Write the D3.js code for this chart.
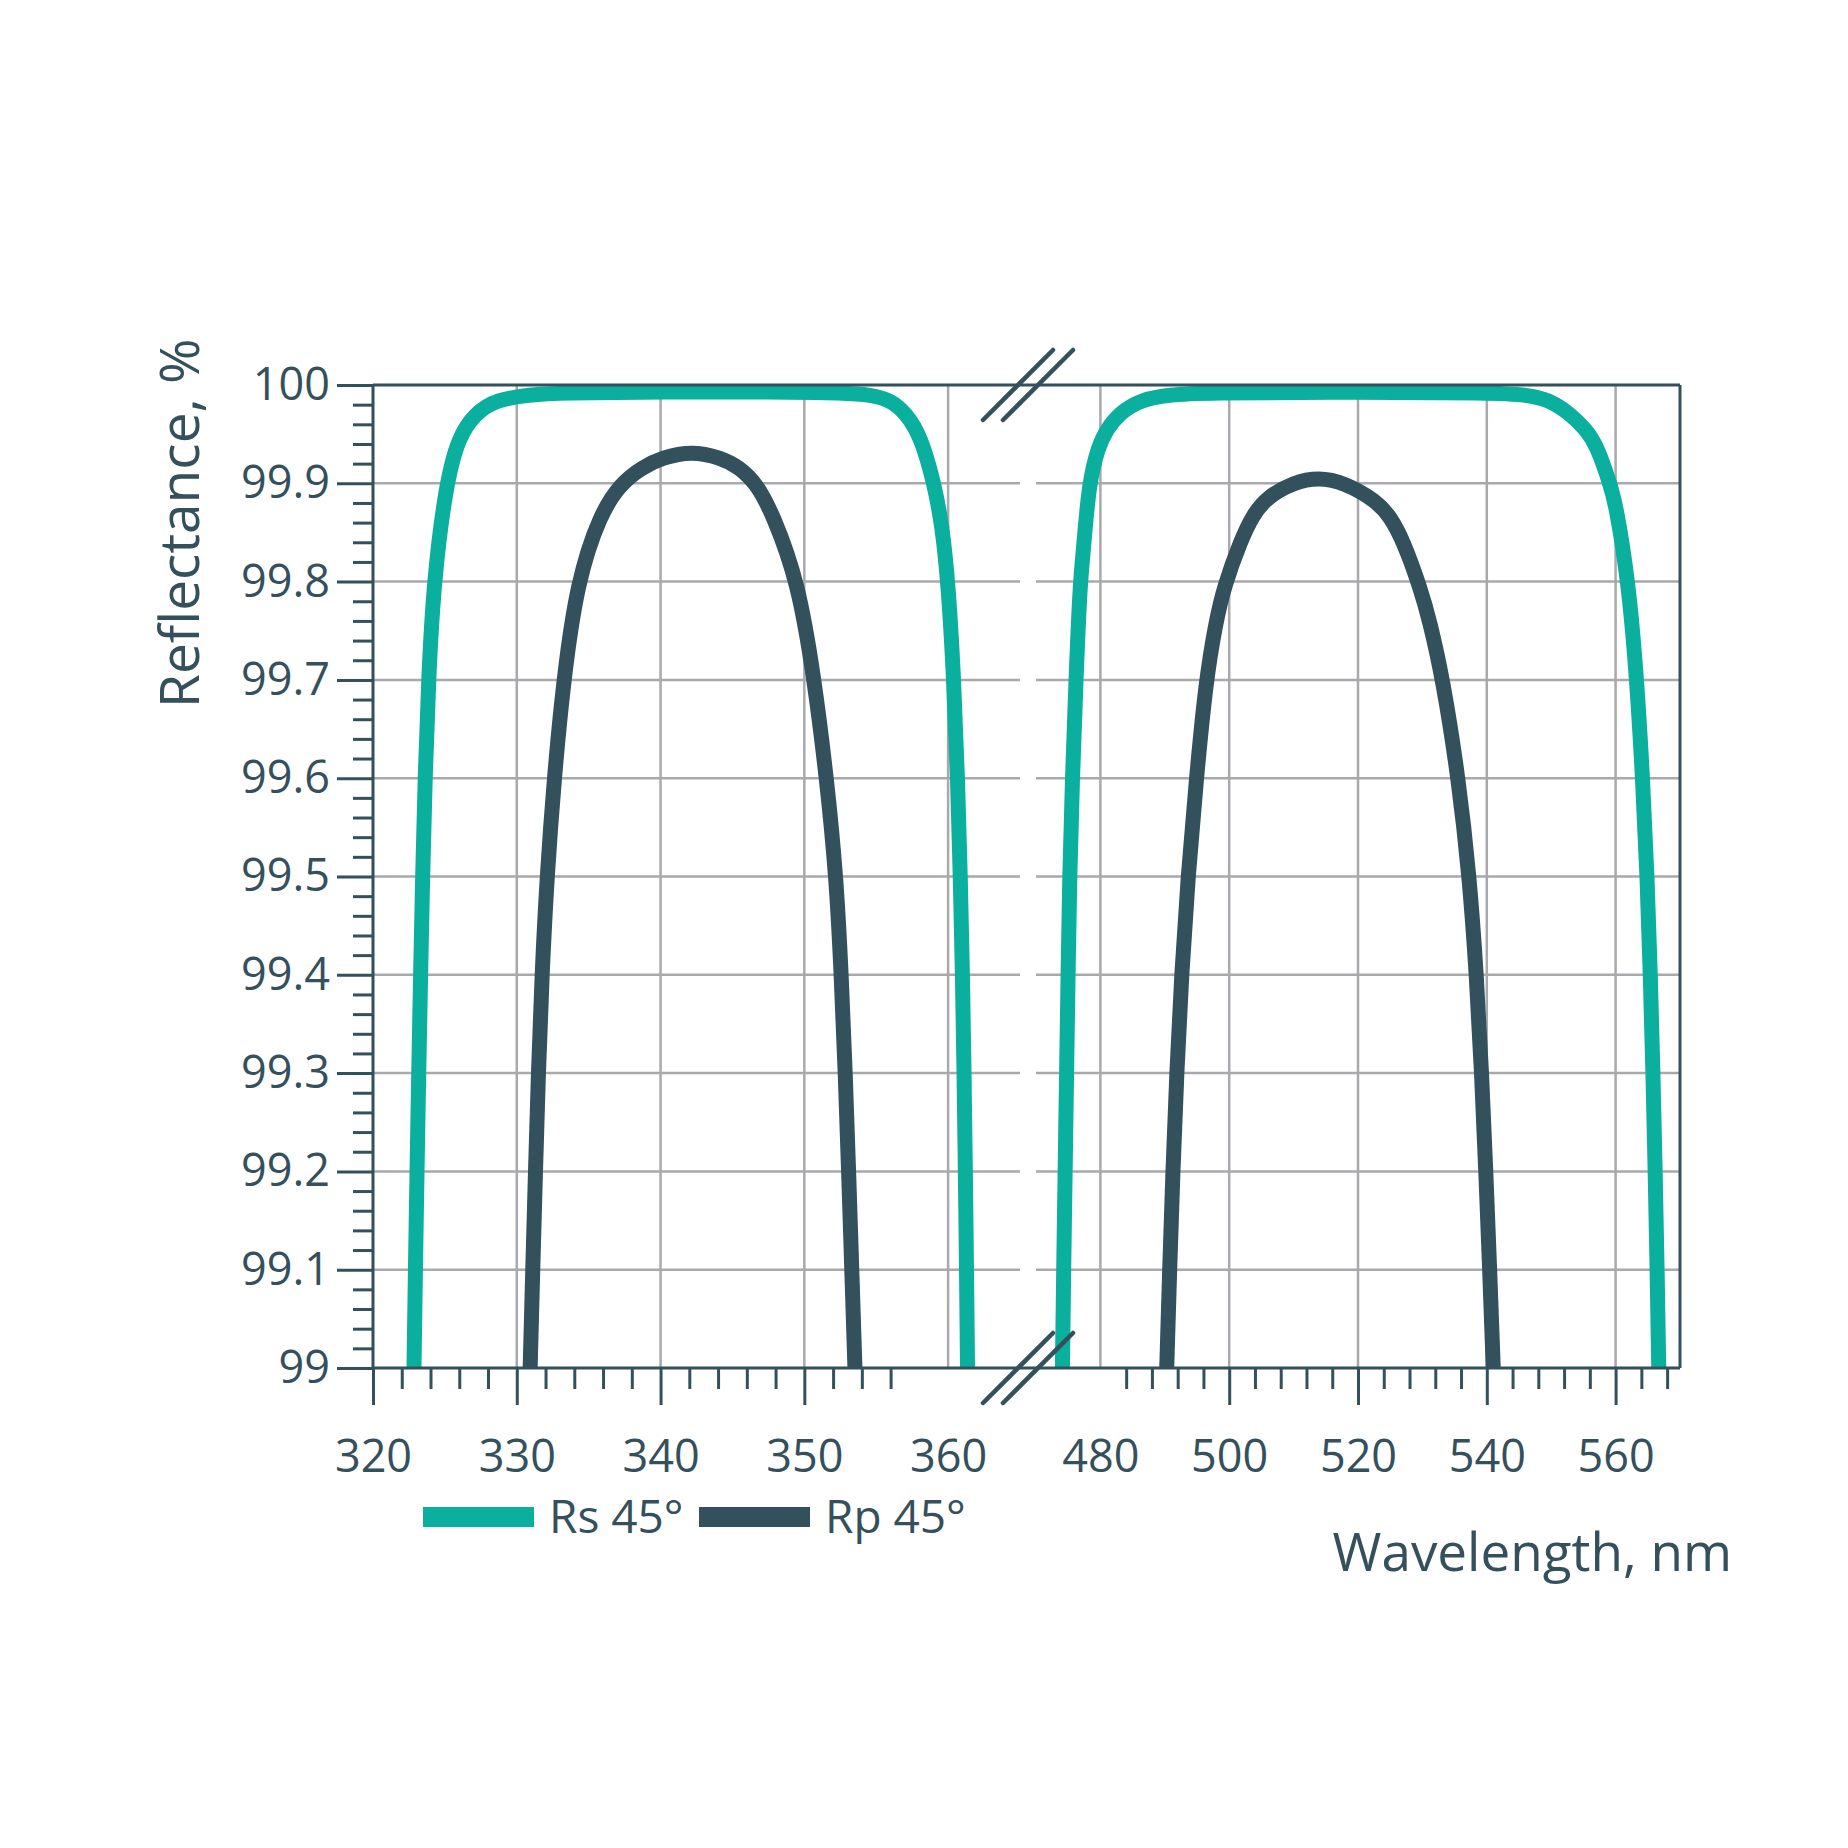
<!DOCTYPE html>
<html>
<head>
<meta charset="utf-8">
<script src="https://cdn.jsdelivr.net/npm/d3@7"></script>
<style>
  body { margin: 0; background: #fff; }
  text { font-family: "Open Sans", "Noto Sans", sans-serif; fill: #34505d; }
</style>
</head>
<body>
<svg id="chart" width="1848" height="1848"></svg>
<script>
// reflectance readings, [wavelength nm, R %]
const rsLeft = [
  [322.85, 99.0], [322.95, 99.1], [323.06, 99.2], [323.18, 99.3], [323.31, 99.4],
  [323.45, 99.5], [323.62, 99.6], [323.86, 99.7], [324.22, 99.8], [325.07, 99.899],
  [325.94, 99.947], [327.1, 99.971], [328.55, 99.985], [330.9, 99.99], [333, 99.992],
  [340, 99.993], [348, 99.993], [352.8, 99.992], [354.64, 99.99], [355.94, 99.985],
  [357.1, 99.971], [358.12, 99.947], [359.04, 99.899], [359.57, 99.858], [360.0, 99.8],
  [360.4, 99.7], [360.66, 99.6], [360.85, 99.5], [361.0, 99.4], [361.11, 99.3],
  [361.2, 99.2], [361.28, 99.1], [361.35, 99.0]
];
const rpLeft = [
  [330.93, 99.0], [331.11, 99.1], [331.3, 99.2], [331.5, 99.3], [331.75, 99.4],
  [332.1, 99.5], [332.6, 99.6], [333.25, 99.7], [334.2, 99.8], [335.8, 99.869],
  [337.25, 99.9], [338.7, 99.916], [340.1, 99.926], [342.17, 99.933], [344.2, 99.926],
  [345.4, 99.917], [346.67, 99.9], [347.8, 99.869], [349.57, 99.8], [350.7, 99.7],
  [351.55, 99.6], [352.22, 99.5], [352.57, 99.4], [352.85, 99.3], [353.08, 99.2],
  [353.3, 99.1], [353.52, 99.0]
];
const rsRight = [
  [474.1, 99.0], [474.3, 99.1], [474.52, 99.2], [474.75, 99.3], [474.98, 99.4],
  [475.22, 99.5], [475.65, 99.6], [476.2, 99.7], [476.85, 99.8], [477.4, 99.834],
  [478.2, 99.9], [479.7, 99.938], [481, 99.955], [482.9, 99.971], [486.2, 99.985],
  [490.8, 99.99], [495.4, 99.992], [520, 99.993], [541.1, 99.992], [546.3, 99.99],
  [549.6, 99.985], [552.9, 99.971], [555.5, 99.954], [557.1, 99.938], [559.1, 99.9],
  [560.0, 99.88], [562, 99.8], [563.3, 99.7], [564.2, 99.6], [564.9, 99.5],
  [565.4, 99.4], [565.8, 99.3], [566.15, 99.2], [566.45, 99.1], [566.7, 99.0]
];
const rpRight = [
  [490.3, 99.0], [490.75, 99.1], [491.25, 99.2], [491.85, 99.3], [492.6, 99.4],
  [493.6, 99.5], [494.9, 99.6], [496.4, 99.7], [497.9, 99.758], [499.2, 99.795],
  [501.8, 99.842], [503.7, 99.868], [505.9, 99.886], [510.0, 99.901], [513.9, 99.906],
  [517.8, 99.901], [522.9, 99.882], [525.0, 99.866], [527.0, 99.842], [529.6, 99.795],
  [531.1, 99.761], [533.2, 99.7], [535.6, 99.6], [537.3, 99.5], [538.4, 99.4],
  [539.2, 99.3], [539.85, 99.2], [540.45, 99.1], [541.0, 99.0]
];

// ticks and labels
const yMajor = [99, 99.1, 99.2, 99.3, 99.4, 99.5, 99.6, 99.7, 99.8, 99.9, 100];
const yMinor = d3.range(99, 100.001, 0.02).filter(v => Math.round(v * 50) % 5 !== 0);
const yLabels = ["99", "99.1", "99.2", "99.3", "99.4", "99.5", "99.6", "99.7", "99.8", "99.9", "100"];
const yGrid = [99.1, 99.2, 99.3, 99.4, 99.5, 99.6, 99.7, 99.8, 99.9];

const leftMajor = [320, 330, 340, 350];
const leftMinor = [322, 324, 326, 328, 332, 334, 336, 338, 342, 344, 346, 348, 352, 354, 356];
const leftLabels = [320, 330, 340, 350, 360];
const leftGrid = [330, 340, 350, 360];

const rightMajor = [500, 520, 540, 560];
const rightMinor = [484, 488, 492, 496, 504, 508, 512, 516, 524, 528, 532, 536, 544, 548, 552, 556, 564, 568];
const rightLabels = [480, 500, 520, 540, 560];
const rightGrid = [480, 500, 520, 540, 560];

const legendItems = ["Rs 45°", "Rp 45°"];

const teal = "#0aaf9d";
const dark = "#33505d";
const grid = "#a9a9ad";

const svg = d3.select("#chart");

const xL = d3.scaleLinear().domain([320, 365]).range([373, 1020]);
const xR = d3.scaleLinear().domain([470, 570]).range([1036, 1680]);
const y = d3.scaleLinear().domain([99, 100]).range([1368, 385]);

// ------
// grid lines
function drawGrid(x, xs, x0, x1) {
  const g = svg.append("g").attr("stroke", grid).attr("stroke-width", 2.5);
  g.selectAll("line.v").data(xs).enter().append("line")
    .attr("x1", d => x(d)).attr("x2", d => x(d))
    .attr("y1", y(100)).attr("y2", y(99));
  g.selectAll("line.h").data(yGrid).enter().append("line")
    .attr("x1", x0).attr("x2", x1)
    .attr("y1", d => y(d)).attr("y2", d => y(d));
}
drawGrid(xL, leftGrid, xL(320), xL(365));
drawGrid(xR, rightGrid, xR(470), xR(570));

// ------
// curves (b-spline smooths out small reading errors)
function drawCurve(x, data, color) {
  const line = d3.line()
    .x(d => x(d[0]))
    .y(d => y(d[1]))
    .curve(d3.curveBasis);
  svg.append("path")
    .attr("d", line(data))
    .attr("fill", "none")
    .attr("stroke", color)
    .attr("stroke-width", 15)
    .attr("stroke-linejoin", "round");
}
drawCurve(xL, rsLeft, teal);
drawCurve(xL, rpLeft, dark);
drawCurve(xR, rsRight, teal);
drawCurve(xR, rpRight, dark);

// ------
// frame
const frame = svg.append("g").attr("stroke", dark).attr("stroke-width", 3).attr("fill", "none");
frame.append("line").attr("x1", xL(320)).attr("x2", xR(570)).attr("y1", y(100)).attr("y2", y(100));
frame.append("line").attr("x1", xL(320)).attr("x2", xR(570)).attr("y1", y(99)).attr("y2", y(99));
frame.append("line").attr("x1", xL(320)).attr("x2", xL(320)).attr("y1", y(100)).attr("y2", y(99));
frame.append("line").attr("x1", xR(570)).attr("x2", xR(570)).attr("y1", y(100)).attr("y2", y(99));

// ------
// axes
function styleTicks(g) {
  g.select(".domain").remove();
  g.selectAll(".tick line").attr("stroke", dark).attr("stroke-width", 3);
}
function styleLabels(g, size) {
  g.select(".domain").remove();
  g.selectAll(".tick line").remove();
  g.selectAll(".tick text")
    .attr("fill", dark)
    .style("font-size", size + "px")
    .style("font-family", "'Open Sans', 'Noto Sans', sans-serif");
}

const yAxisX = xL(320);
svg.append("g").attr("transform", `translate(${yAxisX},0)`)
  .call(d3.axisLeft(y).tickValues(yMinor).tickSize(20).tickFormat(""))
  .call(styleTicks);
svg.append("g").attr("transform", `translate(${yAxisX},0)`)
  .call(d3.axisLeft(y).tickValues(yMajor).tickSize(36).tickFormat(""))
  .call(styleTicks);
svg.append("g").attr("transform", `translate(${yAxisX},0)`)
  .call(d3.axisLeft(y).tickValues(yMajor).tickSize(0).tickPadding(43)
    .tickFormat((d, i) => yLabels[i]))
  .call(g => styleLabels(g, 45));

const xAxisY = y(99);
[[xL, leftMajor, leftMinor, leftLabels], [xR, rightMajor, rightMinor, rightLabels]].forEach(([x, major, minor, labels]) => {
  svg.append("g").attr("transform", `translate(0,${xAxisY})`)
    .call(d3.axisBottom(x).tickValues(minor).tickSize(21).tickFormat(""))
    .call(styleTicks);
  svg.append("g").attr("transform", `translate(0,${xAxisY})`)
    .call(d3.axisBottom(x).tickValues(major).tickSize(37).tickFormat(""))
    .call(styleTicks);
  svg.append("g").attr("transform", `translate(0,${xAxisY})`)
    .call(d3.axisBottom(x).tickValues(labels).tickSize(0).tickPadding(72).tickFormat(d3.format("d")))
    .call(g => styleLabels(g, 45));
});

// ------
// break marks
const bx = (xL(365) + xR(470)) / 2;
[y(100), y(99)].forEach(by => {
  [-10, 10].forEach(off => {
    svg.append("line")
      .attr("x1", bx + off - 35).attr("y1", by + 35)
      .attr("x2", bx + off + 35).attr("y2", by - 35)
      .attr("stroke", dark).attr("stroke-width", 4.5)
      .attr("stroke-linecap", "round");
  });
});

// ------
// titles
svg.append("text")
  .attr("transform", "translate(199,708) rotate(-90)")
  .attr("text-anchor", "start")
  .style("font-size", "55px")
  .text("Reflectance, %");

svg.append("text")
  .attr("x", 1732).attr("y", 1571)
  .attr("text-anchor", "end")
  .style("font-size", "53px")
  .text("Wavelength, nm");

// ------
// legend
const legendX = [423, 699];
const legendColors = [teal, dark];
const legend = svg.append("g");
legend.selectAll("rect").data(legendItems).enter().append("rect")
  .attr("x", (d, i) => legendX[i]).attr("y", 1507)
  .attr("width", 111).attr("height", 20)
  .attr("fill", (d, i) => legendColors[i]);
legend.selectAll("text").data(legendItems).enter().append("text")
  .attr("x", (d, i) => legendX[i] + 126).attr("y", 1533)
  .style("font-size", "46px")
  .text(d => d);
</script>
</body>
</html>
